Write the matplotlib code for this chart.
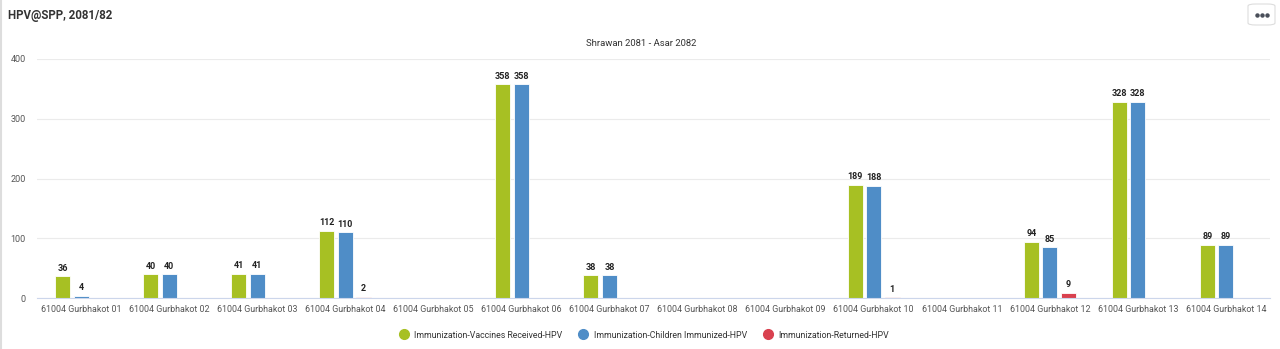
import numpy as np
import matplotlib.pyplot as plt
from matplotlib.patches import FancyBboxPatch

plt.rcParams['font.family'] = ['Roboto', 'DejaVu Sans']

# ---- data ----
wards = [f"61004 Gurbhakot {i:02d}" for i in range(1, 15)]
received = [36, 40, 41, 112, np.nan, 358, 38, np.nan, np.nan, 189, np.nan, 94, 328, 89]
immunized = [4, 40, 41, 110, np.nan, 358, 38, np.nan, np.nan, 188, np.nan, 85, 328, 89]
returned = [np.nan, np.nan, np.nan, 2, np.nan, np.nan, np.nan, np.nan, np.nan, 1, np.nan, 9, np.nan, np.nan]
series_names = ["Immunization-Vaccines Received-HPV",
                "Immunization-Children Immunized-HPV",
                "Immunization-Returned-HPV"]
colors = ["#A7C023", "#4F8DC7", "#D9414F"]
yticks = [0, 100, 200, 300, 400]

fig = plt.figure(figsize=(12.8, 3.49), dpi=100)
ax = fig.add_axes([37 / 1280, 1 - 298 / 349, (1270 - 37) / 1280, (298 - 59) / 349])

x = np.arange(len(wards))
bw = 0.17
step = 0.21
for k, (vals, col, name) in enumerate(zip([received, immunized, returned], colors, series_names)):
    v = np.array(vals, dtype=float)
    pos = x + (k - 1) * step
    ax.bar(pos, np.nan_to_num(v), width=bw, color=col, edgecolor='white',
           linewidth=0.6, label=name, zorder=3)
    for p, val in zip(pos, v):
        if not np.isnan(val):
            ax.text(p, val + 6, f"{int(val)}", ha='center', va='bottom',
                    fontsize=6.5, fontweight='bold', color='#222222')

ax.set_xlim(-0.5, len(wards) - 0.5)
ax.set_ylim(0, 400)
ax.set_yticks(yticks)
ax.set_xticks(x)
ax.set_xticklabels(wards, fontsize=6.4, color='#555555')
ax.tick_params(axis='y', labelsize=6.5, colors='#555555', length=0, pad=8)
ax.tick_params(axis='x', length=0, pad=5)
ax.grid(axis='y', color='#EBEBEB', linewidth=0.8, zorder=0)
for s in ['top', 'right', 'left']:
    ax.spines[s].set_visible(False)
ax.spines['bottom'].set_color('#CCD6EB')
ax.spines['bottom'].set_linewidth(0.8)
ax.spines['bottom'].set_zorder(4)

# titles
fig.text(8 / 1280, 1 - 15 / 349, "HPV@SPP, 2081/82", fontsize=8.3, fontweight='bold',
         color='#333333', va='center', ha='left')
fig.text(641 / 1280, 1 - 43 / 349, "Shrawan 2081 - Asar 2082", fontsize=6.8,
         color='#333333', va='center', ha='center')

# legend
handles = [plt.Line2D([], [], marker='o', linestyle='', markersize=7, color=c) for c in colors]
fig.legend(handles, series_names, loc='center', bbox_to_anchor=(642 / 1280, 1 - 335 / 349),
           ncol=3, frameon=False, fontsize=6.3, handletextpad=0.2, columnspacing=1.4,
           labelcolor='#333333')

# menu button
btn = FancyBboxPatch((1248 / 1280, 1 - 25 / 349), 27 / 1280, 21 / 349,
                     boxstyle="round,pad=0,rounding_size=0.006", transform=fig.transFigure,
                     facecolor='white', edgecolor='#DDDDDD', linewidth=0.8)
fig.patches.append(btn)
for dx in (-5, 0, 5):
    fig.add_artist(plt.Line2D([(1262 + dx) / 1280], [1 - 14.5 / 349], transform=fig.transFigure,
                              marker='o', markersize=2.2, color='#4A4F5A', linestyle=''))

# card left edge
fig.add_artist(plt.Line2D([1 / 1280, 1 / 1280], [0, 1], transform=fig.transFigure,
                          color='#DDDDDD', linewidth=1.5))

fig.savefig("out.png", dpi=100)
